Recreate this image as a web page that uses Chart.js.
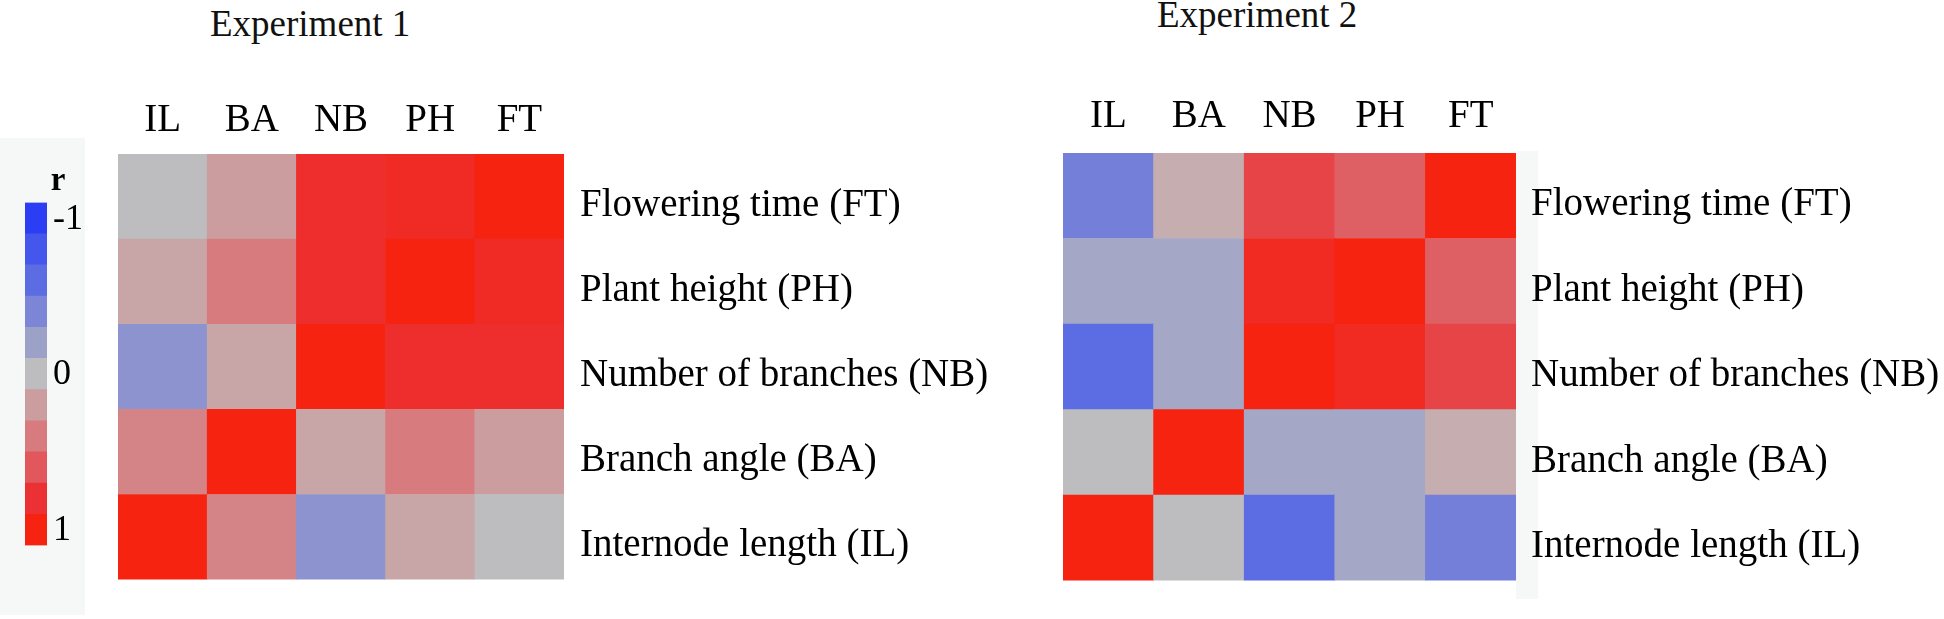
<!DOCTYPE html>
<html>
<head>
<meta charset="utf-8">
<script src="https://cdn.jsdelivr.net/npm/chart.js@4.4.1/dist/chart.umd.min.js"></script>
<style>
  html, body { margin: 0; padding: 0; background: #fff; }
  body { width: 1944px; height: 619px; position: relative; overflow: hidden; font-family: 'Liberation Serif', 'Times New Roman', serif; }
  .box { position: absolute; }
  .title { position: absolute; font-size: 37px; line-height: 37px; color: #111; white-space: nowrap; }
</style>
</head>
<body>
<div class="box" style="left:0;top:138px;width:85px;height:477px;background:#f6f7f7"></div>
<div class="box" style="left:1516px;top:151px;width:22px;height:448px;background:#f6f7f7"></div>
<div class="title" style="left:210px;top:5px">Experiment 1</div>
<div class="title" style="left:1157px;top:-4px">Experiment 2</div>
<div class="box" style="left:25px;top:162px;width:66px;height:411px"><canvas id="legendChart"></canvas></div>
<div class="box" style="left:118px;top:0;width:922px;height:619px"><canvas id="exp1Chart"></canvas></div>
<div class="box" style="left:1063px;top:0;width:881px;height:619px"><canvas id="exp2Chart"></canvas></div>
<script>
// column traits and row labels (rows top to bottom)
const traits = ['IL', 'BA', 'NB', 'PH', 'FT'];
const rowNames = ['Flowering time (FT)', 'Plant height (PH)', 'Number of branches (NB)', 'Branch angle (BA)', 'Internode length (IL)'];

// Experiment 1, correlation r, columns IL BA NB PH FT
const exp1FT = [0.0, 0.2, 0.85, 0.88, 1];
const exp1PH = [0.15, 0.4, 0.85, 1, 0.88];
const exp1NB = [-0.3, 0.15, 1, 0.85, 0.85];
const exp1BA = [0.35, 1, 0.15, 0.4, 0.2];
const exp1IL = [1, 0.35, -0.3, 0.15, 0.0];

// Experiment 2
const exp2FT = [-0.45, 0.1, 0.7, 0.55, 1];
const exp2PH = [-0.15, -0.15, 0.9, 1, 0.55];
const exp2NB = [-0.6, -0.15, 1, 0.9, 0.7];
const exp2BA = [0.0, 1, -0.15, -0.15, 0.1];
const exp2IL = [1, 0.0, -0.6, -0.15, -0.45];

// colour key
const keyValues = [-1, -0.8, -0.6, -0.4, -0.2, 0, 0.2, 0.4, 0.6, 0.8, 1];
const keyTicks = ['-1', '', '', '', '', '0', '', '', '', '', '1'];
const keyColors = ['#2b3ef4', '#4456ec', '#5c6ce2', '#7c85d6', '#9ca1c8', '#bdbdc0',
                   '#cc9d9f', '#d77b7e', '#e2575b', '#ec3135', '#f5230f'];

const serif = "'Liberation Serif', 'Times New Roman', serif";

function hex2rgb(h) {
    return [1, 3, 5].map(i => parseInt(h.substr(i, 2), 16));
}

function rColor(r) {
    let i = 0;
    while (i < keyValues.length - 2 && r > keyValues[i + 1]) i++;
    const t = Math.max(0, Math.min(1, (r - keyValues[i]) / (keyValues[i + 1] - keyValues[i])));
    const a = hex2rgb(keyColors[i]), b = hex2rgb(keyColors[i + 1]);
    const c = a.map((v, k) => Math.round(v + (b[k] - v) * t));
    return `rgb(${c[0]}, ${c[1]}, ${c[2]})`;
}

function drawHeatmap(id, rows, xPad, areaTop, axisWidth, labelPad) {
    const ctx = document.getElementById(id).getContext('2d');
    // stack from the bottom row up
    const datasets = rows.slice().reverse().map(row => ({
        data: row.map(() => 1),
        rValues: row,
        backgroundColor: row.map(rColor),
        borderWidth: 0,
        barPercentage: 1,
        categoryPercentage: 1
    }));
    return new Chart(ctx, {
        type: 'bar',
        data: { labels: traits, datasets: datasets },
        options: {
            responsive: true,
            maintainAspectRatio: false,
            animation: false,
            layout: { padding: { top: 0, left: 0, right: 0, bottom: 20 } },
            plugins: { legend: { display: false }, tooltip: { enabled: false } },
            scales: {
                x: {
                    type: 'category',
                    position: 'top',
                    stacked: true,
                    offset: true,
                    grid: { display: false, drawTicks: false },
                    border: { display: false },
                    ticks: { color: '#000', font: { family: serif, size: 39 }, padding: xPad, maxRotation: 0, autoSkip: false },
                    afterFit: s => { s.height = areaTop; }
                },
                y: { stacked: true, min: 0, max: 5, display: false },
                rows: {
                    type: 'category',
                    position: 'right',
                    labels: rowNames,
                    offset: true,
                    grid: { display: false, drawTicks: false },
                    border: { display: false },
                    ticks: { color: '#000', font: { family: serif, size: 39 }, padding: labelPad, labelOffset: 9, autoSkip: false },
                    afterFit: s => { s.width = axisWidth; }
                }
            }
        }
    });
}

drawHeatmap('exp1Chart', [exp1FT, exp1PH, exp1NB, exp1BA, exp1IL], 10, 154, 476, 16);
drawHeatmap('exp2Chart', [exp2FT, exp2PH, exp2NB, exp2BA, exp2IL], 13, 153, 428, 15);

// colour key bar, red (1) at the bottom
const keyDatasets = keyValues.slice().reverse().map(v => ({
    data: [1],
    backgroundColor: rColor(v),
    borderWidth: 0,
    barPercentage: 1,
    categoryPercentage: 1
}));

new Chart(document.getElementById('legendChart').getContext('2d'), {
    type: 'bar',
    data: { labels: [''], datasets: keyDatasets },
    options: {
        responsive: true,
        maintainAspectRatio: false,
        animation: false,
        layout: { padding: { top: 0, left: 0, right: 0, bottom: 10 } },
        plugins: {
            legend: { display: false },
            tooltip: { enabled: false },
            title: {
                display: true,
                text: 'r',
                color: '#000',
                font: { family: serif, size: 33, weight: 'bold' },
                padding: { top: 0, bottom: 1 }
            }
        },
        scales: {
            x: { stacked: true, display: false },
            y: { stacked: true, min: 0, max: keyValues.length, display: false },
            key: {
                type: 'category',
                position: 'right',
                labels: keyTicks,
                offset: true,
                grid: { display: false, drawTicks: false },
                border: { display: false },
                ticks: { color: '#000', font: { family: serif, size: 36 }, padding: 6, labelOffset: 1, autoSkip: false },
                afterFit: s => { s.width = 44; }
            }
        }
    }
});
</script>
</body>
</html>
